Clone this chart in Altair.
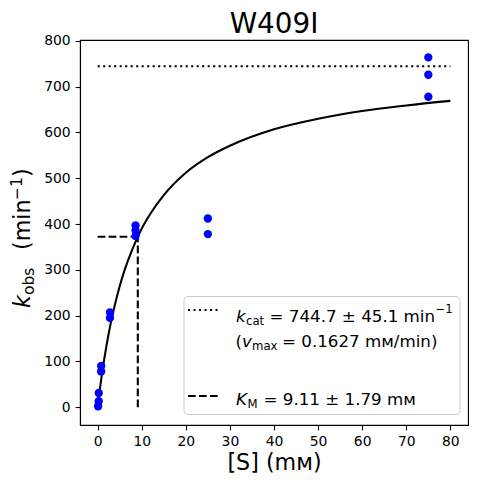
import altair as alt
import pandas as pd

# ---------------- data ----------------
title_text = "W409I"
x_title = "[S] (mᴍ)"

s_mM = [0.1, 0.25, 0.25, 0.8, 0.8, 2.8, 2.8, 8.6, 8.6, 8.6, 25, 25, 75, 75, 75]
k_obs = [2, 13, 31, 78, 90, 195, 207, 374, 386, 397, 378, 412, 678, 726, 764]

fit_s = [0, 0.5, 1, 2, 3, 4, 5, 6, 8, 10, 12, 15, 20, 25, 30, 40, 50, 60, 70, 80]
fit_k = [0, 39, 74, 134, 185, 227, 264, 296, 348, 390, 423, 463, 512, 546, 571,
         607, 630, 647, 659, 669]

kcat = 744.7
km = 9.11
half_kcat = 372.35
kcat_line_x = [0, 80]

x_ticks = [0, 10, 20, 30, 40, 50, 60, 70, 80]
y_ticks = [0, 100, 200, 300, 400, 500, 600, 700, 800]

FONT = "DejaVu Sans"
OX, OY = 80, 40  # plot origin on the page (for annotation placement)

pts = pd.DataFrame({"s": s_mM, "k": k_obs})
fit = pd.DataFrame({"s": fit_s, "k": fit_k})

xs = alt.Scale(domain=[-4, 84], nice=False, zero=False)
ys = alt.Scale(domain=[-39, 802], nice=False, zero=False)

xaxis = alt.Axis(values=x_ticks, title=x_title, titleFontSize=22.2, titleFont=FONT,
                 titleFontWeight="normal", titleColor="black", titlePadding=3,
                 labelFlush=False, grid=False)
yaxis = alt.Axis(values=y_ticks, title=None, grid=False, labelFlush=False)

curve = alt.Chart(fit).mark_line(color="black", strokeWidth=2.08,
                                 interpolate="monotone").encode(
    x=alt.X("s:Q", scale=xs, axis=xaxis),
    y=alt.Y("k:Q", scale=ys, axis=yaxis),
    order="s:Q",
)

dotted = alt.Chart(pd.DataFrame({"x": [kcat_line_x[0]], "x2": [kcat_line_x[1]],
                                 "y": [kcat]})).mark_rule(
    color="black", strokeWidth=2.08, strokeDash=[2.1, 3.4]).encode(
    x=alt.X("x:Q", scale=xs), x2="x2:Q", y=alt.Y("y:Q", scale=ys))

dash_h = alt.Chart(pd.DataFrame({"x": [0], "x2": [km], "y": [half_kcat]})).mark_rule(
    color="black", strokeWidth=2.08, strokeDash=[7.7, 3.3]).encode(
    x=alt.X("x:Q", scale=xs), x2="x2:Q", y=alt.Y("y:Q", scale=ys))

dash_v = alt.Chart(pd.DataFrame({"x": [km], "y": [0], "y2": [half_kcat]})).mark_rule(
    color="black", strokeWidth=2.08, strokeDash=[7.7, 3.3]).encode(
    x=alt.X("x:Q", scale=xs), y=alt.Y("y:Q", scale=ys), y2="y2:Q")

points = alt.Chart(pts).mark_circle(color="#0000ff", opacity=1, size=70).encode(
    x=alt.X("s:Q", scale=xs), y=alt.Y("k:Q", scale=ys))

one = alt.Data(values=[{"a": 1}])


def txt(t, px, py, fs, italic=False, angle=None, align="left"):
    kw = dict(text=t, font=FONT, fontSize=fs, color="black", align=align,
              baseline="alphabetic")
    if italic:
        kw["fontStyle"] = "italic"
    if angle is not None:
        kw["angle"] = angle
    return alt.Chart(one).mark_text(**kw).encode(
        x=alt.value(px - OX), y=alt.value(py - OY))


title_mark = txt(title_text, 274, 32.7, 27.8, align="center")

legend_box = alt.Chart(one).mark_rect(
    fill="white", fillOpacity=0.8, stroke="#cccccc", strokeWidth=1,
    cornerRadius=4).encode(
    x=alt.value(184 - OX), x2=alt.value(460 - OX),
    y=alt.value(296.5 - OY), y2=alt.value(414.5 - OY))

leg_dot = alt.Chart(one).mark_rule(color="black", strokeWidth=2.08,
                                   strokeDash=[2.1, 3.4]).encode(
    x=alt.value(188 - OX), x2=alt.value(221 - OX), y=alt.value(310 - OY))
leg_dash = alt.Chart(one).mark_rule(color="black", strokeWidth=2.08,
                                    strokeDash=[7.7, 3.3]).encode(
    x=alt.value(188 - OX), x2=alt.value(221 - OX), y=alt.value(396 - OY))

LF, SF = 16.7, 11.7
legend_text = [
    txt("k", 236, 321.5, LF, italic=True),
    txt("cat", 246, 324.5, SF),
    txt("= 744.7 ± 45.1 min", 269.5, 321.5, LF),
    txt("−1", 435.5, 313, SF),
    txt("(", 235.5, 347, LF),
    txt("v", 242, 347, LF, italic=True),
    txt("max", 252, 350, SF),
    txt("= 0.1627 mᴍ/min)", 282, 347, LF),
    txt("K", 236, 405, LF, italic=True),
    txt("M", 247.5, 408, SF),
    txt("= 9.11 ± 1.79 mᴍ", 263.5, 405, LF),
]

YF, YS = 22.2, 15.5
ytitle = [
    txt("k", 30, 308, YF, italic=True, angle=270),
    txt("obs", 33.5, 295, YS, angle=270),
    txt("(min", 30, 250, YF, angle=270),
    txt("−1", 22, 200, YS, angle=270),
    txt(")", 30, 177, YF, angle=270),
]

chart = alt.layer(
    curve, dotted, dash_h, dash_v, points, legend_box, leg_dot, leg_dash,
    *legend_text, *ytitle, title_mark
).properties(
    width=388, height=385,
    autosize=alt.AutoSizeParams(type="none"),
    padding={"left": 72, "top": 32, "right": 1, "bottom": 51},
).configure_view(
    stroke="black", strokeWidth=1.1
).configure_axis(
    labelFont=FONT, labelFontSize=13.9, labelColor="black",
    tickColor="black", tickWidth=1.1, tickSize=4.9, labelPadding=4.9,
    domainColor="black", domainWidth=1.1,
)

chart.save("out.html", embed_options={"renderer": "svg", "actions": False})
